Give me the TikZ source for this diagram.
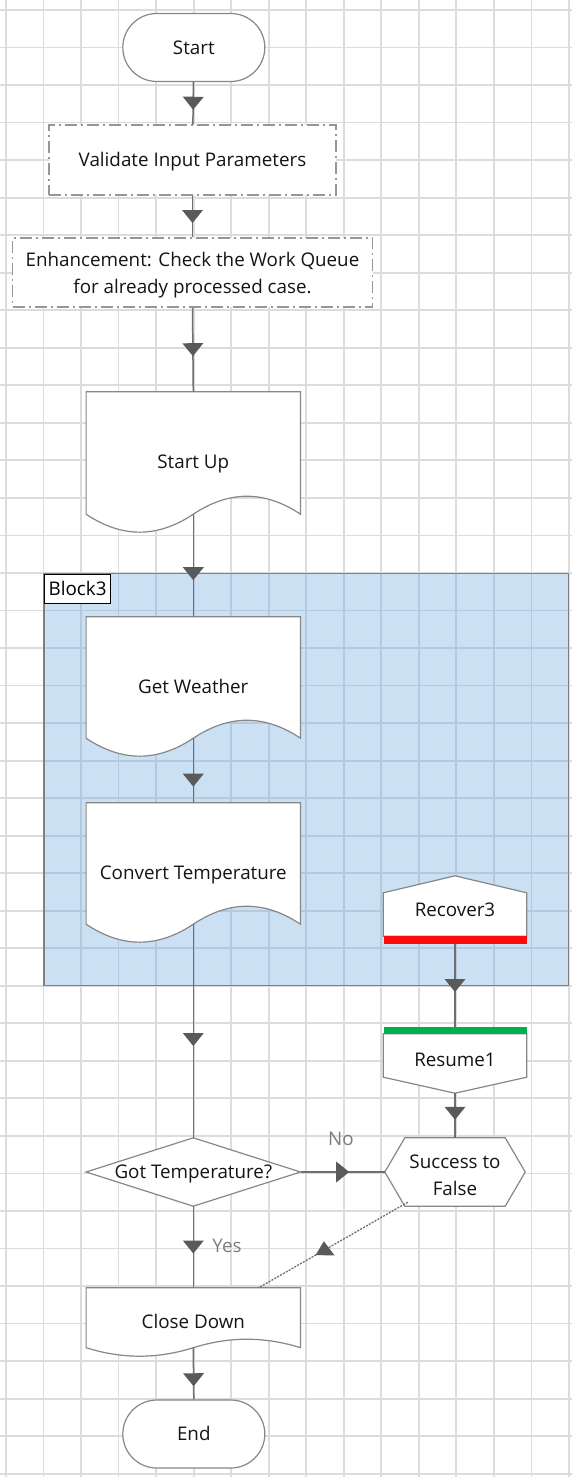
\documentclass[tikz,border=0pt]{standalone}
\usepackage{fontspec}
\setmainfont{Open Sans}
\usetikzlibrary{calc,decorations.markings}
\definecolor{gridc}{RGB}{220,220,220}
\definecolor{blockc}{RGB}{109,167,226}
\definecolor{bordc}{RGB}{135,135,135}
\definecolor{blockbord}{RGB}{128,128,128}
\definecolor{linec}{RGB}{110,110,110}
\definecolor{tric}{RGB}{90,90,90}
\definecolor{txtc}{RGB}{20,20,20}
\definecolor{dashc}{RGB}{150,150,150}
\definecolor{labc}{RGB}{125,125,125}
\definecolor{redbar}{RGB}{250,10,10}
\definecolor{greenbar}{RGB}{0,176,80}
\pgfdeclarelayer{back}
\pgfdeclarelayer{shp}
\pgfsetlayers{back,shp,main}
\newcommand\docwave[2]{%
  \draw[shpline] (#1.north west) -- (#1.north east) -- ($(#1.south east)+(0,-#2)$)
    .. controls +(-36,{-1.33*#2}) and +(36,{-1.33*#2}) .. ($(#1.south)+(0,-#2)$)
    .. controls +(-36,{1.33*#2}) and +(36,{1.33*#2}) .. ($(#1.south west)+(0,-#2)$) -- cycle;}
\tikzset{
  gridline/.style={gridc, line width=1.8pt},
  txt/.style={font=\fontsize{18.8}{27}\selectfont, text=txtc, inner sep=0pt, align=center},
  one/.style={text height=13.4pt, text depth=0pt},
  term/.style={txt, one, draw=bordc, line width=1.2pt, fill=white, rounded corners=34pt,
    minimum width=142pt, minimum height=68pt},
  dbox/.style={draw=dashc, line width=1.2pt, fill=white, inner sep=0pt,
    dash pattern=on 12pt off 4pt on 2pt off 4pt},
  shpline/.style={draw=bordc, line width=1.2pt, fill=white},
  conn/.style={draw=linec, line width=1.5pt},
  arr/.style={postaction={decorate}, decoration={markings,
    mark=at position #1 with {\fill[tric] (6.5pt,0pt) -- (-6.5pt,10.5pt) -- (-6.5pt,-10.5pt) -- cycle;}}},
  arr/.default=0.5,
  uparr/.style={postaction={decorate}, decoration={markings,
    mark=at position #1 with {\fill[tric, rotate=149] (-2pt,8pt) -- (-10pt,-6pt) -- (9pt,-6pt) -- cycle;}}},
  link/.style={draw=linec, line width=1.3pt, dash pattern=on 2pt off 1.3pt},
  lbl/.style={font=\fontsize{18.8}{20}\selectfont, text=labc, inner sep=0pt, one},
  barnode/.style={minimum width=143pt, minimum height=8pt, inner sep=0pt},
}
\begin{document}
\begin{tikzpicture}[x=1pt,y=-1pt]
\useasboundingbox (0,0) rectangle (572,1477);
\begin{pgfonlayer}{back}
  \fill[white] (0,0) rectangle (572,1477);
  \foreach \i in {0,...,15} \draw[gridline] ({6+37.53*\i},0) -- ({6+37.53*\i},1477);
  \foreach \j in {0,...,39} \draw[gridline] (0,{10+37.53*\j}) -- (572,{10+37.53*\j});
  \fill[blockc, fill opacity=0.35] (44,573.5) rectangle (568.5,985.5);
  \draw[blockbord, line width=1.6pt] (44,573.5) rectangle (568.5,985.5);
  \node[draw=black, line width=1.2pt, fill=white, inner sep=0pt, minimum width=66pt,
    minimum height=29pt, anchor=north west, font=\fontsize{18.8}{20}\selectfont, one] (blocklbl) at (44,573.5) {Block3};
\end{pgfonlayer}

% nodes
\node[term] (start) at (193.8,47.5) {Start};
\node[dbox, minimum width=287pt, minimum height=70pt] (val) at (192.5,160) {};
\node[txt, one] (valtxt) at (192.5,160) {Validate Input Parameters};
\node[dbox, minimum width=360pt, minimum height=69pt] (enh) at (192.5,272.5) {};
\node[txt] (enhtxt) at (192.5,275.5) {Enhancement: Check the Work Queue\\for already processed case.};
\node[txt, one, minimum width=214pt, minimum height=140pt] (sn) at (193.3,462) {Start Up};
\node[txt, one, minimum width=214pt, minimum height=139pt] (gw) at (193.3,686.5) {Get Weather};
\node[txt, one, minimum width=214pt, minimum height=139pt] (cv) at (193.3,872.5) {Convert Temperature};
\node[txt, one, minimum width=143pt, minimum height=68pt] (rec) at (455,910) {Recover3};
\node[barnode, fill=redbar, anchor=south] (recbar) at (rec.south) {};
\node[txt, one, minimum width=143pt, minimum height=66pt] (res) at (455,1060) {Resume1};
\node[barnode, fill=greenbar, minimum height=7pt, anchor=north] (resbar) at (res.north) {};
\node[txt, one, minimum width=214pt, minimum height=68pt] (dec) at (193.3,1172) {Got Temperature?};
\node[minimum width=140pt, minimum height=68pt, inner sep=0pt] (succ) at (455,1172) {};
\node[txt] (succtxt) at (455,1175) {Success to\\False};
\node[txt, one, minimum width=214pt, minimum height=68pt] (cd) at (193.3,1322) {Close Down};
\node[term] (stop) at (193.8,1434) {End};
\node[lbl] (nolbl) at (341,1139) {No};
\node[lbl] (yeslbl) at (227,1246) {Yes};

% shape outlines
\begin{pgfonlayer}{shp}
  \docwave{sn}{18}
  \docwave{gw}{18}
  \docwave{cv}{18}
  \docwave{cd}{8.5}
  \draw[shpline] ($(rec.south west)+(0,-8)$) -- ($(rec.north west)+(0,17)$) -- (rec.north)
     -- ($(rec.north east)+(0,17)$) -- ($(rec.south east)+(0,-8)$) -- cycle;
  \draw[shpline] ($(res.north west)+(0,7)$) -- ($(res.north east)+(0,7)$) -- ($(res.south east)+(0,-16)$)
     -- (res.south) -- ($(res.south west)+(0,-16)$) -- cycle;
  \draw[shpline] (dec.west) -- (dec.north) -- (dec.east) -- (dec.south) -- cycle;
  \draw[shpline] (succ.west) -- ($(succ.north west)+(20,0)$) -- ($(succ.north east)+(-20,0)$) -- (succ.east)
     -- ($(succ.south east)+(-20,0)$) -- ($(succ.south west)+(20,0)$) -- cycle;
\end{pgfonlayer}

% connectors
\draw[conn, arr] (start) -- (val);
\draw[conn, arr] (val) -- (enh);
\draw[conn, arr] (enh.south) -- (sn.north);
\draw[conn, arr=0.58] ($(sn.south)+(0,-18)$) -- (gw.north);
\draw[conn, arr=0.65] ($(gw.south)+(0,-18)$) -- (cv.north);
\draw[conn, arr=0.54] ($(cv.south)+(0,-18)$) -- (dec.north);
\draw[conn, arr] (recbar.south) -- (resbar.north);
\draw[conn, arr=0.45] (res.south) -- (succ.north);
\draw[conn, arr] (dec.east) -- (succ.west);
\draw[conn, arr] (dec.south) -- (cd.north);
\draw[link, uparr=0.55] ($(succ.south west)+(23,-4)$) -- ($(cd.north east)+(-42,0)$);
\draw[conn, arr=0.62] ($(cd.south)+(0,-8.5)$) -- (stop.north);
\end{tikzpicture}
\end{document}
